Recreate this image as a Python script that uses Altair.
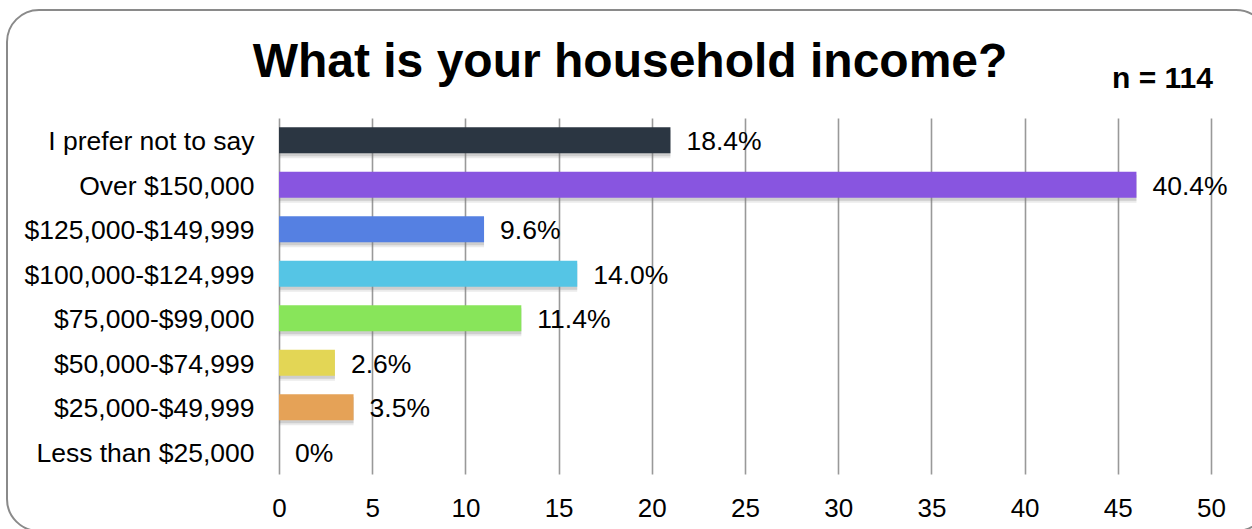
import altair as alt
import pandas as pd

categories = ["I prefer not to say", "Over $150,000", "$125,000-$149,999",
              "$100,000-$124,999", "$75,000-$99,000", "$50,000-$74,999",
              "$25,000-$49,999", "Less than $25,000"]
counts = [21, 46, 11, 16, 13, 3, 4, 0]
pct_labels = ["18.4%", "40.4%", "9.6%", "14.0%", "11.4%", "2.6%", "3.5%", "0%"]
colors = ["#2b3642", "#8855e0", "#5580e2", "#55c5e5", "#88e55a", "#e3d655", "#e5a257", "#bbbbbb"]
x_ticks = [0, 5, 10, 15, 20, 25, 30, 35, 40, 45, 50]

df = pd.DataFrame({"cat": categories, "count": counts, "label": pct_labels, "color": colors})

FONT = "Liberation Sans"

y_enc = alt.Y("cat:N", sort=categories, title=None,
              scale=alt.Scale(paddingInner=0, paddingOuter=0),
              axis=alt.Axis(labelFontSize=26.5, labelFont=FONT, labelColor="#000", labelLimit=0,
                            labelPadding=25, labelOffset=2, ticks=False, domain=False, grid=False))
x_enc = alt.X("count:Q", title=None,
              scale=alt.Scale(domain=[0, 50], nice=False),
              axis=alt.Axis(values=x_ticks, labelFontSize=26, labelFont=FONT, labelColor="#000",
                            labelFlush=False, labelOverlap=False,
                            labelPadding=21, ticks=False, domain=False, grid=True,
                            gridColor="#999999", gridWidth=1.6))

base = alt.Chart(df)

border = alt.Chart(pd.DataFrame({"a": [0]})).mark_rect(
    fillOpacity=0, fill="white", stroke="#8a8a8a", strokeWidth=2, cornerRadius=32
).encode(x=alt.value(-272), x2=alt.value(989), y=alt.value(-108), y2=alt.value(413))

shadow1 = base.transform_filter("datum.count > 0").mark_bar(
    size=28, color="#777777", opacity=0.15, yOffset=4, x2Offset=5
).encode(x=x_enc, y=y_enc)

shadow2 = base.transform_filter("datum.count > 0").mark_bar(
    size=26, color="#777777", opacity=0.25, yOffset=3, x2Offset=3
).encode(x=x_enc, y=y_enc)

bars = base.mark_bar(size=26).encode(
    x=x_enc, y=y_enc,
    color=alt.Color("color:N", scale=None)
)

labels = base.mark_text(align="left", baseline="middle", dx=16, dy=2, fontSize=26.5, font=FONT,
                        color="#000").encode(x="count:Q", y=alt.Y("cat:N", sort=categories),
                                             text="label:N")

title = alt.Chart(pd.DataFrame({"t": ["What is your household income?"]})).mark_text(
    align="center", baseline="alphabetic", fontSize=48, fontWeight="bold", font=FONT, color="#000"
).encode(x=alt.value(351), y=alt.value(-41), text="t:N")

ntext = alt.Chart(pd.DataFrame({"t": ["n = 114"]})).mark_text(
    align="right", baseline="alphabetic", fontSize=30, fontWeight="bold", font=FONT, color="#000"
).encode(x=alt.value(934), y=alt.value(-30), text="t:N")

chart = alt.layer(border, shadow1, shadow2, bars, labels, title, ntext).properties(
    width=932, height=356,
    autosize=alt.AutoSizeParams(type="none"),
    padding={"left": 279, "top": 118, "right": 41, "bottom": 55},
    background="white"
).configure_view(stroke=None)

chart.save("out.html", embed_options={"renderer": "svg", "actions": False})
